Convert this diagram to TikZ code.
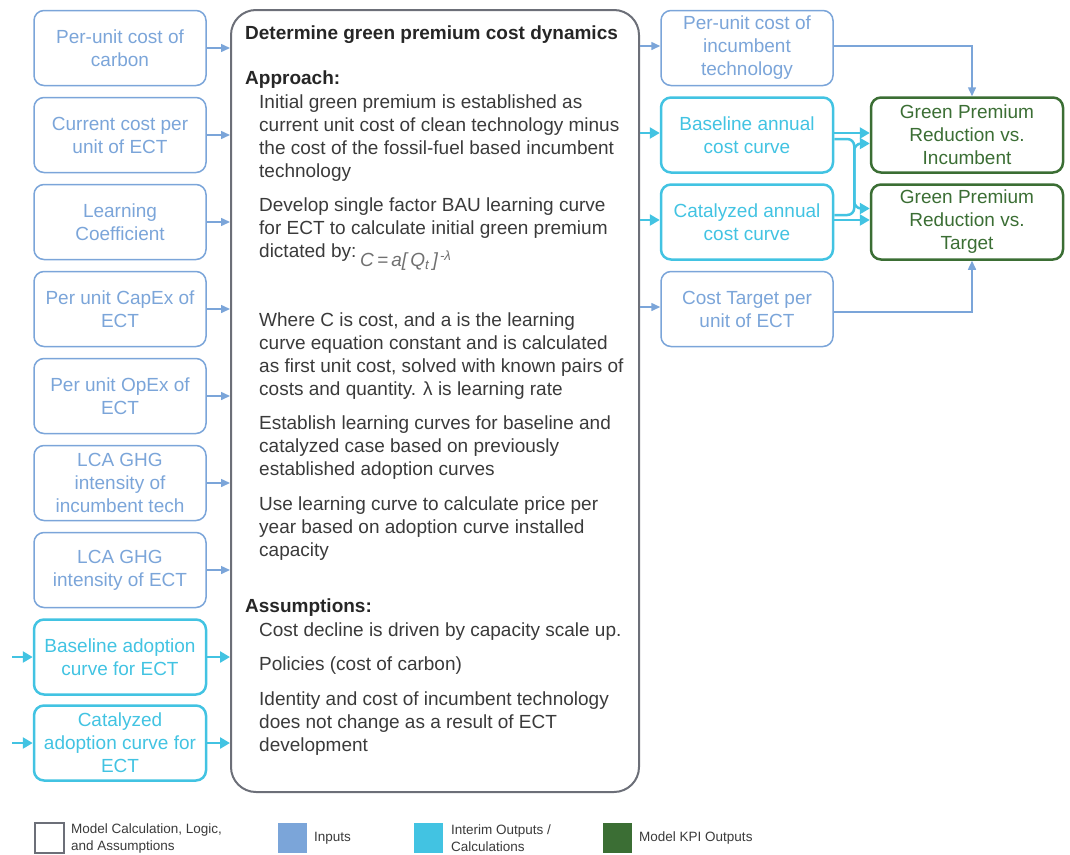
\documentclass[tikz,border=0pt]{standalone}
\usepackage{fontspec}
\setmainfont{Liberation Sans}
\usetikzlibrary{arrows.meta}
\definecolor{inblue}{HTML}{7BA5D9}
\definecolor{incyan}{HTML}{42C3E2}
\definecolor{kpigreen}{HTML}{3B6E34}
\definecolor{mgray}{HTML}{6C6F78}
\definecolor{txt}{HTML}{3A3A3A}
\definecolor{fgray}{HTML}{707070}
\tikzset{
 box/.style={rounded corners=10pt, minimum width=172pt, minimum height=75pt, align=center, font=\fontsize{19}{23}\selectfont, inner sep=2pt},
 inbox/.style={box, draw=inblue, text=inblue, line width=1.5pt},
 midbox/.style={box, draw=incyan, text=incyan, line width=2.5pt},
 kpibox/.style={box, draw=kpigreen, text=kpigreen, line width=2.5pt, minimum width=192pt},
 inarr/.style={draw=inblue, line width=1.5pt, -{Triangle[length=9pt,width=8pt]}},
 midarr/.style={draw=incyan, line width=2.5pt, -{Triangle[length=10pt,width=11pt]}},
 para/.style={anchor=north west, align=left, inner sep=0pt, font=\fontsize{19}{22.7}\selectfont, text=txt},
 head/.style={anchor=north west, inner sep=0pt, font=\bfseries\fontsize{19}{22}\selectfont, text=black!85},
 legtext/.style={anchor=west, align=left, inner sep=0pt, font=\fontsize{13.5}{17}\selectfont, text=txt},
 legsq/.style={minimum width=29pt, minimum height=30pt, inner sep=0pt},
}
\begin{document}
\begin{tikzpicture}[x=1pt,y=-1pt]
\useasboundingbox (0,0) rectangle (1070,854);
% main box
\node[draw=mgray, line width=2pt, rounded corners=25pt, minimum width=408pt, minimum height=782pt, inner sep=0pt] (main) at (435,401) {};
% left boxes
\node[inbox] (L1) at (120,48) {Per-unit cost of\\carbon};
\node[inbox] (L2) at (120,135) {Current cost per\\unit of ECT};
\node[inbox] (L3) at (120,222) {Learning\\Coefficient};
\node[inbox] (L4) at (120,309) {Per unit CapEx of\\ECT};
\node[inbox] (L5) at (120,396) {Per unit OpEx of\\ECT};
\node[inbox] (L6) at (120,483) {LCA GHG\\intensity of\\incumbent tech};
\node[inbox] (L7) at (120,570) {LCA GHG\\intensity of ECT};
\node[midbox] (L8) at (120,657) {Baseline adoption\\curve for ECT};
\node[midbox] (L9) at (120,743) {Catalyzed\\adoption curve for\\ECT};
% right boxes
\node[inbox] (R1) at (747,48) {Per-unit cost of\\incumbent\\technology};
\node[midbox] (R2) at (747,135) {Baseline annual\\cost curve};
\node[midbox] (R3) at (747,222) {Catalyzed annual\\cost curve};
\node[inbox] (R4) at (747,309) {Cost Target per\\unit of ECT};
% KPI boxes
\node[kpibox] (G1) at (967,135) {Green Premium\\Reduction vs.\\Incumbent};
\node[kpibox] (G2) at (967,222) {Green Premium\\Reduction vs.\\Target};
% left arrows
\foreach \n in {L1,L2,L3,L4,L5,L6,L7}{
  \draw[inarr] (\n.east) -- (\n.east -| main.west);
}
\foreach \n in {L8,L9}{
  \draw[midarr] (\n.east) -- (\n.east -| main.west);
}
\coordinate (s8) at (12,657);
\coordinate (s9) at (12,743);
\draw[midarr] (s8) -- (L8.west);
\draw[midarr] (s9) -- (L9.west);
% main to right
\draw[inarr] ([yshift=2pt]R1.west -| main.east) -- ([yshift=2pt]R1.west);
\draw[midarr] ([yshift=2pt]R2.west -| main.east) -- ([yshift=2pt]R2.west);
\draw[midarr] ([yshift=2pt]R3.west -| main.east) -- ([yshift=2pt]R3.west);
\draw[inarr] ([yshift=2pt]R4.west -| main.east) -- ([yshift=2pt]R4.west);
% right to KPI
\draw[inarr] ([yshift=2pt]R1.east) -| ([xshift=5pt]G1.north);
\draw[inarr] ([yshift=-3pt]R4.east) -| ([xshift=5pt]G2.south);
\draw[midarr] ([yshift=2pt]R2.east) -- ([yshift=2pt]R2.east -| G1.west);
\draw[midarr] ([yshift=2pt]R3.east) -- ([yshift=2pt]R3.east -| G2.west);
\draw[midarr, rounded corners=7pt] ([yshift=-4pt]R2.east) -- ++(20,0) |- ([yshift=13.5pt]G2.west);
\draw[midarr, rounded corners=7pt] ([yshift=7pt]R3.east) -- ++(20,0) |- ([yshift=-8.5pt]G1.west);
% main text
\node[head] (t0) at (245,26) {Determine green premium cost dynamics};
\node[head] (t1) at (245,71) {Approach:};
\node[para] (p1) at (259,95) {Initial green premium is established as\\current unit cost of clean technology minus\\the cost of the fossil-fuel based incumbent\\technology};
\node[para] (p2) at (259,198) {Develop single factor BAU learning curve\\for ECT to calculate initial green premium\\dictated by:};
\node[anchor=west, inner sep=0pt, text=fgray, font=\fontsize{19}{19}\selectfont\itshape] (f) at (360,261) {C\,=\,a[\,Q\textsubscript{t}\,]\textsuperscript{\,-λ}};
\node[para] (p3) at (259,313) {Where C is cost, and a is the learning\\curve equation constant and is calculated\\as first unit cost, solved with known pairs of\\costs and quantity. λ is learning rate};
\node[para] (p4) at (259,416) {Establish learning curves for baseline and\\catalyzed case based on previously\\established adoption curves};
\node[para] (p5) at (259,497) {Use learning curve to calculate price per\\year based on adoption curve installed\\capacity};
\node[head] (t2) at (245,599) {Assumptions:};
\node[para] (a1) at (259,623) {Cost decline is driven by capacity scale up.};
\node[para] (a2) at (259,657) {Policies (cost of carbon)};
\node[para] (a3) at (259,692) {Identity and cost of incumbent technology\\does not change as a result of ECT\\development};
% legend
\node[legsq, draw=mgray, line width=2pt, fill=white] (k1) at (49,838) {};
\node[legtext] (k1t) at (71,838) {Model Calculation, Logic,\\and Assumptions};
\node[legsq, fill=inblue] (k2) at (292,838) {};
\node[legtext] (k2t) at (314,838) {Inputs};
\node[legsq, fill=incyan] (k3) at (428,838) {};
\node[legtext] (k3t) at (451,838) {Interim Outputs /\\Calculations};
\node[legsq, fill=kpigreen] (k4) at (617,838) {};
\node[legtext] (k4t) at (639,838) {Model KPI Outputs};
\end{tikzpicture}
\end{document}
